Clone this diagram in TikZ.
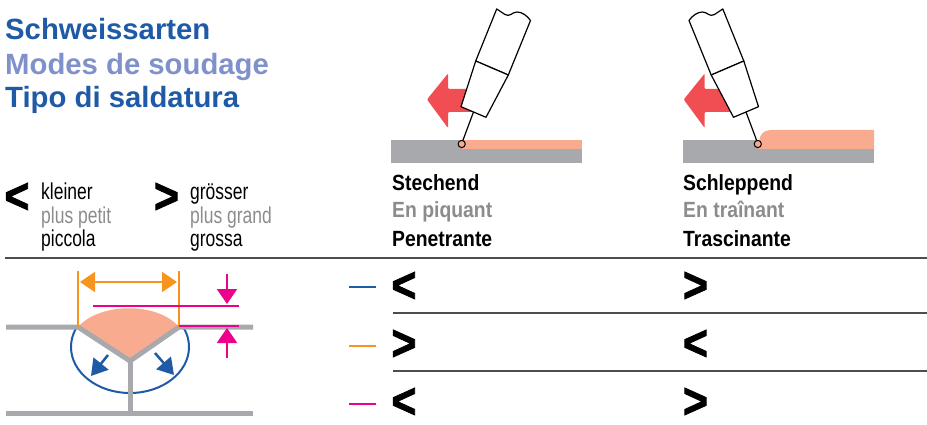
\documentclass[tikz,border=0pt]{standalone}
\usepackage{fontspec}
\setmainfont{Liberation Sans}
\newfontfamily\condfont{Liberation Sans}[FakeStretch=0.76]
\newfontfamily\condbfont{Liberation Sans}[FakeStretch=0.88]
\newfontfamily\chevfont{Liberation Sans}[FakeBold=1.8]
\usetikzlibrary{arrows.meta}

\definecolor{titleblue}{HTML}{1F5AA6}
\definecolor{paleblue}{HTML}{7F91CB}
\definecolor{seam}{HTML}{F9AB8F}
\definecolor{plategray}{HTML}{A7A9AC}
\definecolor{dimorange}{HTML}{F7941D}
\definecolor{dimpink}{HTML}{EC008C}
\definecolor{arrowred}{HTML}{F04E53}
\definecolor{notegray}{HTML}{8A8C8E}
\definecolor{rulegray}{HTML}{4D4D4D}

\tikzset{
	title/.style={anchor=base west, inner sep=0, font=\fontsize{29.3}{30}\selectfont\bfseries},
	note/.style={anchor=base west, inner sep=0, font=\condfont\fontsize{23}{24}\selectfont},
	mode/.style={anchor=base west, inner sep=0, font=\condbfont\fontsize{22}{24}\selectfont\bfseries},
	chevron/.style={inner sep=0, xscale=0.85, font=\chevfont\fontsize{50}{50}\selectfont\bfseries},
	torch/.style={draw=black, line width=1.2pt, fill=white, line join=round},
	plate/.style={line width=5pt, color=plategray},
	dim/.style={line width=2pt},
	rule/.style={line width=1.6pt, color=rulegray},
	bigtip/.tip={Triangle[length=15pt, width=20pt]},
}

\begin{document}
\begin{tikzpicture}[x=1pt, y=-1pt]
	\useasboundingbox (0,0) rectangle (927,425);
	%%%%% HEADER %%%%%
	\node[title, text=titleblue] (de) at (5,40) {Schweissarten};
	\node[title, text=paleblue] (fr) at (5,75) {Modes de soudage};
	\node[title, text=titleblue] (it) at (5,108) {Tipo di saldatura};
	
	%%%%% LEGEND %%%%%
	\node[chevron] (lt) at (17,198) {<};
	\node[note] (kl) at (41,200) {kleiner};
	\node[note, text=notegray] (pp) at (41,223.5) {plus petit};
	\node[note] (pc) at (41,247) {piccola};
	\node[chevron] (gt) at (166.5,198) {>};
	\node[note] (gr) at (190,200) {grösser};
	\node[note, text=notegray] (pg) at (190,223.5) {plus grand};
	\node[note] (gs) at (190,247) {grossa};
	
	%%%%% PUSHING TORCH %%%%%
	\fill[plategray] (391,140) rectangle (582,163);
	\fill[seam] (462,140) rectangle (582,149);
	\fill[arrowred, rounded corners=1pt] (427,99.5) -- (448,73.5) -- (448,89) -- (480,89) -- (480,112) -- (448,112) -- (448,128) -- cycle;
	\draw[torch] (475.7,61) -- (496.7,9) -- (505,14.5) .. controls (510,17.5) and (512,12) .. (517,12) .. controls (522,12) and (527,15.5) .. (530.5,20.5) -- (508.3,75) -- cycle;
	\draw[torch] (475.7,61) -- (508.3,75) -- (486,117.3) -- (461,106.7) -- cycle;
	\draw[line width=1.2pt] (473.5,112) -- (462.8,140.6);
	\draw[fill=seam, line width=1pt] (461.7,144) circle (3.6);
	
	\node[mode] (st) at (392,191) {Stechend};
	\node[mode, text=notegray] (ep) at (392,218) {En piquant};
	\node[mode] (pe) at (392,246) {Penetrante};
	
	%%%%% DRAGGING TORCH %%%%%
	\fill[plategray] (683,140) rectangle (874,163);
	\fill[seam] (758,149) -- (759,141) .. controls (760,134) and (764,130) .. (771,130) -- (874,130) -- (874,149) -- cycle;
	\fill[arrowred, rounded corners=1pt] (683.7,99.5) -- (704.7,73.5) -- (704.7,89) -- (740,89) -- (740,112) -- (704.7,112) -- (704.7,128) -- cycle;
	\begin{scope}[xshift=1219.5pt, xscale=-1]
		\draw[torch] (475.7,61) -- (496.7,9) -- (505,14.5) .. controls (510,17.5) and (512,12) .. (517,12) .. controls (522,12) and (527,15.5) .. (530.5,20.5) -- (508.3,75) -- cycle;
		\draw[torch] (475.7,61) -- (508.3,75) -- (486,117.3) -- (461,106.7) -- cycle;
		\draw[line width=1.2pt] (473.5,112) -- (462.8,140.6);
		\draw[fill=seam, line width=1pt] (461.7,144) circle (3.6);
	\end{scope}
	
	\node[mode] (sl) at (683,191) {Schleppend};
	\node[mode, text=notegray] (et) at (683,218) {En traînant};
	\node[mode] (tr) at (683,246) {Trascinante};
	
	%%%%% TABLE %%%%%
	\draw[rule] (5,258) -- (927,258);
	\draw[rule] (393,313) -- (927,313);
	\draw[rule] (393,371) -- (927,371);
	
	\draw[dim, line width=2.5pt, titleblue] (349,287) -- (376,287);
	\draw[dim, line width=2.5pt, dimorange] (349,346) -- (376,346);
	\draw[dim, line width=2.5pt, dimpink] (349,404) -- (376,404);
	
	\node[chevron] (a1) at (404,287) {<};
	\node[chevron] (b1) at (695.5,287) {>};
	\node[chevron] (a2) at (404,345) {>};
	\node[chevron] (b2) at (695.5,345) {<};
	\node[chevron] (a3) at (404,403) {<};
	\node[chevron] (b3) at (695.5,403) {>};
	
	%%%%% WELD SEAM %%%%%
	\fill[seam] (78,327) .. controls (100,302) and (158,302) .. (179,327) -- (130,361) -- cycle;
	\begin{scope}
		\clip (50,327) rectangle (210,400);
		\draw[titleblue, line width=2pt] (130,347) ellipse [x radius=59, y radius=46];
	\end{scope}
	\draw[plate] (6,327) -- (78,327) -- (130,361) -- (179,327) -- (253,327);
	\draw[plate] (130,361) -- (130,413);
	\draw[plate] (6,413) -- (253,413);
	
	\draw[titleblue, line width=2.5pt, -{Triangle[length=16pt, width=19pt]}] (108,355) -- (91,376);
	\draw[titleblue, line width=2.5pt, -{Triangle[length=16pt, width=19pt]}] (155,353) -- (174,375);
	
	\draw[dim, dimorange] (78,271) -- (78,327);
	\draw[dim, dimorange] (179,271) -- (179,327);
	\draw[dim, dimorange, bigtip-bigtip] (80,282) -- (177,282);
	
	\draw[dim, dimpink] (93,306) -- (239,306);
	\draw[dim, dimpink] (179,326) -- (239,326);
	\draw[dim, dimpink, -bigtip] (227,274) -- (227,304);
	\draw[dim, dimpink, -bigtip] (227,358) -- (227,328);
\end{tikzpicture}
\end{document}
